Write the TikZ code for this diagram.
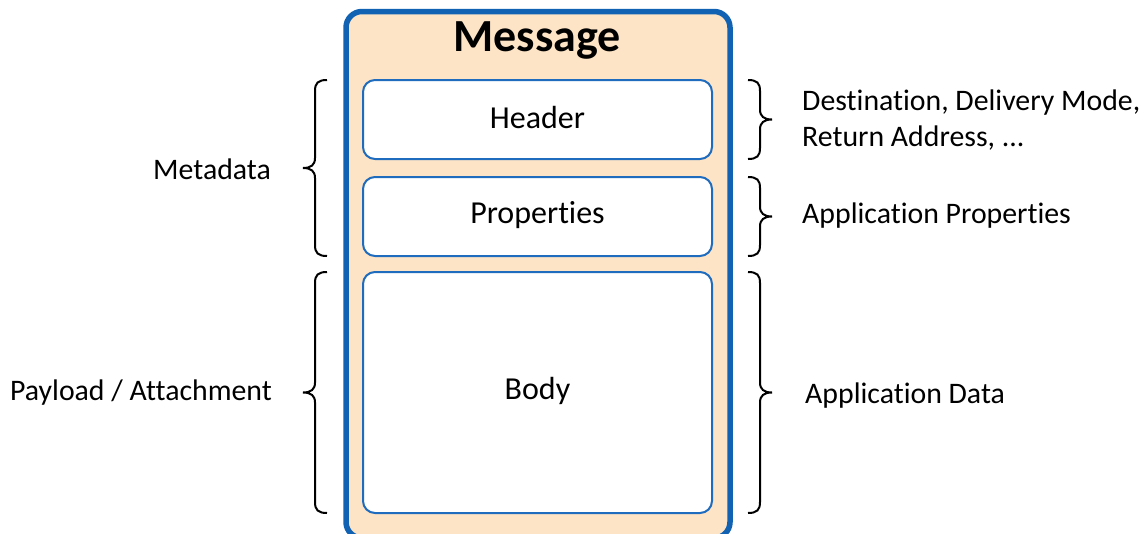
\documentclass[tikz,border=0pt]{standalone}
\usepackage{fontspec}
\setmainfont{Carlito}[RawFeature={-liga;-clig;-dlig;-calt}]
\usetikzlibrary{calc}
\definecolor{msgblue}{HTML}{1262B3}
\definecolor{boxblue}{HTML}{1F6BBE}
\definecolor{peach}{HTML}{FDE4C6}
\tikzset{
  part/.style={draw=boxblue, line width=2pt, fill=white, rounded corners=12pt},
  lbl/.style={font=\fontsize{29.8}{36}\selectfont, inner sep=0pt},
  plbl/.style={font=\fontsize{32}{36}\selectfont, inner sep=0pt},
  brc/.style={draw=black, line width=2pt},
}
% #1 = x of straight part, #2 = top y, #3 = bottom y, #4 = +1 (tip left) or -1 (tip right)
\newcommand\mybrace[4]{%
  \pgfmathsetmacro\ym{(#2+#3)/2}%
  \draw[brc] (#1+12*#4,#2) .. controls (#1+3*#4,#2) and (#1,#2+3) .. (#1,#2+11)
    -- (#1,\ym-10) .. controls (#1,\ym-3) and (#1-4*#4,\ym) .. (#1-12*#4,\ym)
    .. controls (#1-4*#4,\ym) and (#1,\ym+3) .. (#1,\ym+10)
    -- (#1,#3-11) .. controls (#1,#3-3) and (#1+3*#4,#3) .. (#1+12*#4,#3);}
\begin{document}
\begin{tikzpicture}[x=1pt,y=-1pt]
\useasboundingbox (0,0) rectangle (1147,533);
\clip (0,0) rectangle (1147,533);
% outer message box
\draw[draw=msgblue, line width=5.5pt, fill=peach, rounded corners=16pt] (346,11.5) rectangle (730,538);
\node[font=\fontsize{46}{50}\bfseries, inner sep=0pt] (title) at (537,40) {Message};
% parts
\draw[part] (363,80) rectangle (712,159);
\draw[part] (363,177) rectangle (712,256);
\draw[part] (363,272) rectangle (712,513);
\node[plbl] (hdr) at (537.5,118) {Header};
\node[plbl] (prop) at (537.5,215) {Properties};
\node[plbl] (body) at (537.5,391) {Body};
% braces
\mybrace{315}{80}{256}{1}
\mybrace{315}{272}{513}{1}
\mybrace{760}{80}{159}{-1}
\mybrace{760}{177}{256}{-1}
\mybrace{760}{272}{513}{-1}
% labels
\node[lbl] (meta) at (212,169) {Metadata};
\node[lbl, anchor=west] (payload) at (10,393) {Payload / Attachment};
\node[lbl, anchor=west, align=left] (dest) at (802,120) {Destination, Delivery Mode,\\Return Address, ...};
\node[lbl, anchor=west] (appprop) at (802,216) {Application Properties};
\node[lbl, anchor=west] (appdata) at (805,396) {Application Data};
\end{tikzpicture}
\end{document}
